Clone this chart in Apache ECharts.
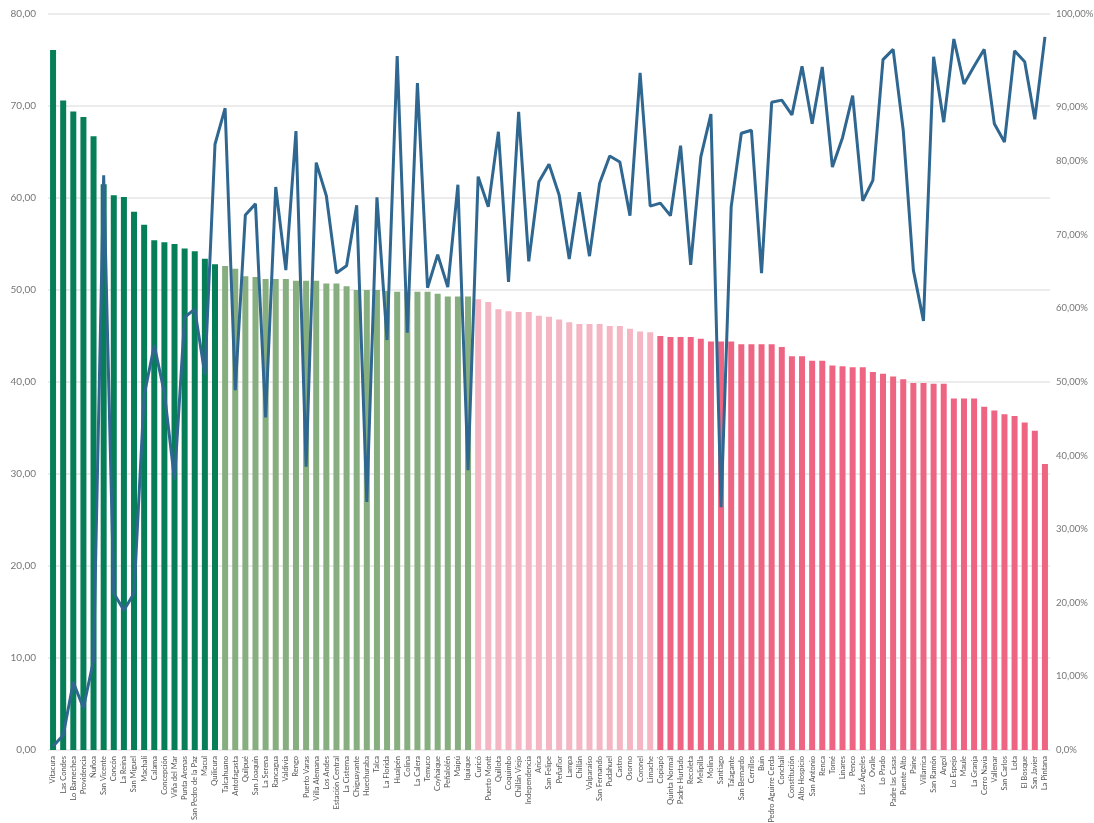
<!DOCTYPE html>
<html>
<head>
<meta charset="utf-8">
<script src="https://cdn.jsdelivr.net/npm/echarts@6/dist/echarts.min.js"></script>
<style>
  html, body { margin: 0; padding: 0; background: #fff; }
  #chart { width: 1094px; height: 823px; }
</style>
</head>
<body>
<div id="chart"></div>
<script>
const comunas = [
  'Vitacura', 'Las Condes', 'Lo Barnechea', 'Providencia', 'Ñuñoa', 'San Vicente', 'Concón', 'La Reina',
  'San Miguel', 'Machalí', 'Calama', 'Concepción', 'Viña del Mar', 'Punta Arenas', 'San Pedro de la Paz',
  'Macul', 'Quilicura', 'Talcahuano', 'Antofagasta', 'Quilpué', 'San Joaquín', 'La Serena', 'Rancagua',
  'Valdivia', 'Rengo', 'Puerto Varas', 'Villa Alemana', 'Los Andes', 'Estación Central', 'La Cisterna',
  'Chiguayante', 'Huechuraba', 'Talca', 'La Florida', 'Hualpén', 'Colina', 'La Calera', 'Temuco',
  'Coyhaique', 'Peñalolén', 'Maipú', 'Iquique', 'Curicó', 'Puerto Montt', 'Quillota', 'Coquimbo',
  'Chillán Viejo', 'Independencia', 'Arica', 'San Felipe', 'Peñaflor', 'Lampa', 'Chillán', 'Valparaíso',
  'San Fernando', 'Pudahuel', 'Castro', 'Osorno', 'Coronel', 'Limache', 'Copiapó', 'Quinta Normal',
  'Padre Hurtado', 'Recoleta', 'Melipilla', 'Molina', 'Santiago', 'Talagante', 'San Bernardo', 'Cerrillos',
  'Buin', 'Pedro Aguirre Cerda', 'Conchalí', 'Constitución', 'Alto Hospicio', 'San Antonio', 'Renca',
  'Tomé', 'Linares', 'Penco', 'Los Ángeles', 'Ovalle', 'Lo Prado', 'Padre las Casas', 'Puente Alto',
  'Paine', 'Villarrica', 'San Ramón', 'Angol', 'Lo Espejo', 'Maule', 'La Granja', 'Cerro Navia',
  'Vallenar', 'San Carlos', 'Lota', 'El Bosque', 'San Javier', 'La Pintana'
];

// puntaje (eje izquierdo)
const puntaje = [
  76.1, 70.6, 69.4, 68.8, 66.7, 61.5, 60.3, 60.1, 58.5, 57.1,
  55.4, 55.2, 55.0, 54.5, 54.2, 53.4, 52.8, 52.6, 52.3, 51.5,
  51.4, 51.2, 51.2, 51.2, 51.0, 51.0, 51.0, 50.7, 50.7, 50.4,
  50.0, 50.0, 50.0, 49.9, 49.8, 49.8, 49.8, 49.8, 49.6, 49.3,
  49.3, 49.3, 49.0, 48.7, 47.9, 47.7, 47.6, 47.6, 47.2, 47.1,
  46.8, 46.5, 46.3, 46.3, 46.3, 46.1, 46.1, 45.8, 45.5, 45.4,
  45.0, 44.9, 44.9, 44.9, 44.7, 44.4, 44.4, 44.4, 44.1, 44.1,
  44.1, 44.1, 43.8, 42.8, 42.8, 42.3, 42.3, 41.8, 41.7, 41.6,
  41.6, 41.1, 40.9, 40.6, 40.3, 39.9, 39.9, 39.8, 39.8, 38.2,
  38.2, 38.2, 37.3, 36.9, 36.5, 36.3, 35.6, 34.7, 31.1
];

// porcentaje (eje derecho)
const porcentaje = [
  0.5, 2.0, 9.2, 5.7, 12.2, 78.1, 21.3, 19.0, 21.3, 48.2,
  55.0, 48.5, 36.7, 58.8, 59.9, 51.0, 82.3, 87.2, 48.9, 72.7,
  74.2, 45.2, 76.5, 65.2, 84.1, 38.5, 79.8, 75.3, 64.8, 65.8,
  74.0, 33.7, 75.1, 55.7, 94.3, 56.7, 90.6, 62.8, 67.3, 62.9,
  76.8, 38.0, 77.9, 73.8, 84.0, 63.6, 86.7, 66.4, 77.2, 79.6,
  75.4, 66.7, 75.8, 67.1, 77.0, 80.7, 79.9, 72.6, 92.0, 73.9,
  74.3, 72.6, 82.1, 65.9, 80.6, 86.4, 33.0, 73.8, 83.8, 84.2,
  64.8, 88.0, 88.3, 86.3, 92.9, 85.1, 92.8, 79.2, 83.2, 88.9,
  74.6, 77.4, 93.8, 95.2, 84.2, 65.2, 58.3, 94.2, 85.3, 96.6,
  90.5, 92.9, 95.2, 85.1, 82.6, 95.0, 93.5, 85.7, 96.9
];

// tamaño de cada grupo de color, en orden
const grupos = [17, 25, 18, 39];
const coloresGrupo = ['#067e58', '#87ae7f', '#f5b6c3', '#ee6483'];

function colorDe(idx) {
  let acc = 0;
  for (let g = 0; g < grupos.length; g++) {
    acc += grupos[g];
    if (idx < acc) return coloresGrupo[g];
  }
  return coloresGrupo[coloresGrupo.length - 1];
}

const fmt = (v) => v.toFixed(2).replace('.', ',');

const chart = echarts.init(document.getElementById('chart'));

chart.setOption({
  animation: false,
  textStyle: { fontFamily: 'Lato, "Open Sans", sans-serif' },
  grid: { left: 48, right: 44, top: 14, bottom: 73, outerBoundsMode: 'none', containLabel: false },
  xAxis: {
    type: 'category',
    data: comunas,
    axisLine: { show: false },
    axisTick: { show: false },
    axisLabel: {
      interval: 0,
      rotate: 90,
      fontSize: 7.5,
      color: '#555',
      margin: 6
    }
  },
  yAxis: [
    {
      type: 'value',
      min: 0,
      max: 80,
      interval: 10,
      axisLine: { show: false },
      axisTick: { show: false },
      splitLine: { lineStyle: { color: '#e6e6e6', width: 1.5 } },
      axisLabel: { fontSize: 10, color: '#777', margin: 12, formatter: (v) => fmt(v) }
    },
    {
      type: 'value',
      min: 0,
      max: 100,
      interval: 10,
      axisLine: { show: false },
      axisTick: { show: false },
      splitLine: { show: false },
      axisLabel: {
        fontSize: 9.5,
        color: '#777',
        margin: 6,
        formatter: (v) => {
          if (v === 0) return '0,0%';
          if (v === 90) return '{d|' + fmt(v) + '%}';
          return fmt(v) + '%';
        },
        rich: { d: { fontSize: 9.5, color: '#777', padding: [38, 0, 0, 0] } }
      }
    }
  ],
  series: [
    {
      type: 'bar',
      data: puntaje,
      barWidth: 6,
      itemStyle: { color: (p) => colorDe(p.dataIndex) }
    },
    {
      type: 'line',
      yAxisIndex: 1,
      data: porcentaje,
      symbol: 'none',
      lineStyle: { color: '#2f6790', width: 3 },
      z: 3
    }
  ]
});
</script>
</body>
</html>
